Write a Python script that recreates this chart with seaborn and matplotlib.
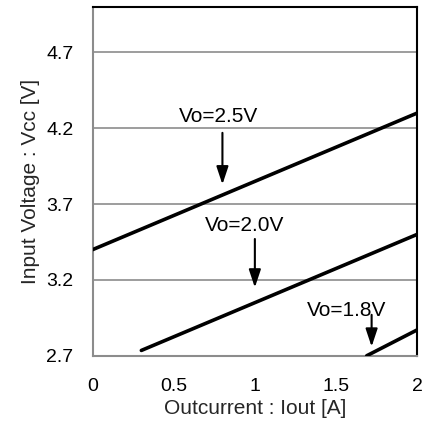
import matplotlib
matplotlib.use("Agg")
import matplotlib.pyplot as plt
import seaborn as sns
import pandas as pd

# Input voltage vs. output current for three output voltage settings
series_names = ["Vo=2.5V", "Vo=2.0V", "Vo=1.8V"]
iout_25 = [0.0, 2.0]
vcc_25 = [3.4, 4.3]
iout_20 = [0.3, 2.0]
vcc_20 = [2.735, 3.5]
iout_18 = [1.69, 2.0]
vcc_18 = [2.7, 2.87]

# Annotation arrows: arrow x, arrow start y, arrow end y, label anchor (baseline)
arrow_x = [0.8, 1.0, 1.72]
arrow_y_start = [4.17, 3.47, 2.97]
arrow_y_end = [3.83, 3.15, 2.76]
label_xy = [(0.778, 4.24), (0.937, 3.52), (1.567, 2.961)]

x_ticks = [0, 0.5, 1, 1.5, 2]
x_tick_labels = ["0", "0.5", "1", "1.5", "2"]
y_ticks = [2.7, 3.2, 3.7, 4.2, 4.7]
y_tick_labels = ["2.7", "3.2", "3.7", "4.2", "4.7"]

sns.set_theme(style="white")
plt.rcParams["font.family"] = ["Liberation Sans", "DejaVu Sans"]

df = pd.concat([
    pd.DataFrame({"Iout": iout_25, "Vcc": vcc_25, "Vo": series_names[0]}),
    pd.DataFrame({"Iout": iout_20, "Vcc": vcc_20, "Vo": series_names[1]}),
    pd.DataFrame({"Iout": iout_18, "Vcc": vcc_18, "Vo": series_names[2]}),
])

fig = plt.figure(figsize=(4.30, 4.21), dpi=100)
ax = fig.add_axes([0.2156, 0.155, 0.7542, 0.8284])

grid_color = "#8c8c8c"
for yt in y_ticks:
    ax.axhline(yt, color=grid_color, lw=1.2, zorder=1)

sns.lineplot(data=df, x="Iout", y="Vcc", units="Vo", estimator=None,
             color="black", lw=2.6, ax=ax, legend=False, zorder=3)

for name, ax_x, y0, y1, (tx, ty) in zip(series_names, arrow_x, arrow_y_start,
                                        arrow_y_end, label_xy):
    ax.annotate("", xy=(ax_x, y1), xytext=(ax_x, y0),
                arrowprops=dict(arrowstyle="-|>,head_length=0.9,head_width=0.3",
                                color="black", lw=1.5, shrinkA=0, shrinkB=0),
                zorder=4)
    ax.text(tx, ty, name, ha="center", va="baseline", fontsize=15,
            color="black", zorder=4)

ax.set_xlim(0, 2)
ax.set_ylim(2.7, 5.0)
ax.set_xticks(x_ticks)
ax.set_xticklabels(x_tick_labels)
ax.set_yticks(y_ticks)
ax.set_yticklabels(y_tick_labels)
ax.tick_params(axis="both", labelsize=14, colors=grid_color, labelcolor="black",
               direction="out", width=1.2)
ax.tick_params(axis="y", length=7, pad=7)
ax.tick_params(axis="x", length=6, pad=10)

for side in ["top", "right"]:
    ax.spines[side].set_color("black")
    ax.spines[side].set_linewidth(1.5)
for side in ["left", "bottom"]:
    ax.spines[side].set_color(grid_color)
    ax.spines[side].set_linewidth(1.5)

ax.set_xlabel("Outcurrent : Iout [A]", fontsize=15, labelpad=3)
ax.set_ylabel("Input Voltage : Vcc [V]", fontsize=15, labelpad=4)

fig.savefig("out.png", dpi=100)
